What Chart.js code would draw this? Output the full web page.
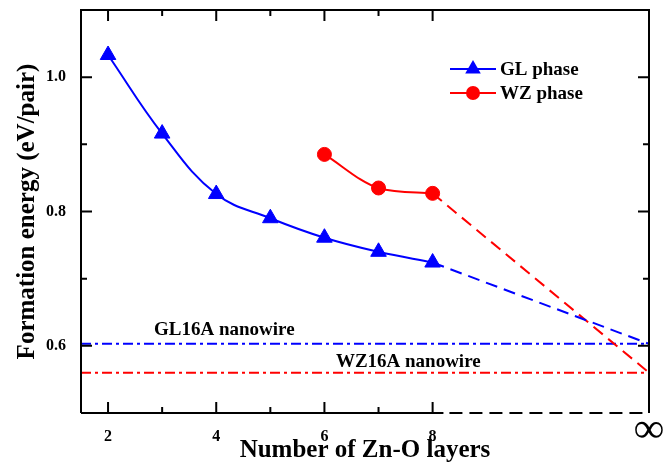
<!DOCTYPE html>
<html>
<head>
<meta charset="utf-8">
<script src="https://cdn.jsdelivr.net/npm/chart.js@4"></script>
<style>
html, body { margin: 0; padding: 0; background: #fff; }
#wrap { width: 668px; height: 466px; }
</style>
</head>
<body>
<div id="wrap"><canvas id="c"></canvas></div>
<script>
// values
const layers = [2, 3, 4, 5, 6, 7, 8];
const glEnergy = [1.033, 0.916, 0.826, 0.790, 0.761, 0.740, 0.724];
const wzLayers = [6, 7, 8];
const wzEnergy = [0.885, 0.835, 0.827];
const infLayer = 12;          // where "∞" sits on the x axis
const glLimit = 0.603;        // extrapolated GL value at ∞
const wzLimit = 0.560;        // extrapolated WZ value at ∞
const gl16a = 0.603;          // GL16A nanowire
const wz16a = 0.560;          // WZ16A nanowire
const xTicks = [2, 3, 4, 5, 6, 7, 8, 12];
const yTicks = [0.6, 0.7, 0.8, 0.9, 1.0];

const SERIF = '"Liberation Serif", "Times New Roman", serif';
const BLUE = '#0000ff';
const RED = '#ff0000';

function pts(xs, ys) {
    return xs.map((x, i) => ({ x: x, y: ys[i] }));
}

const data = {
    datasets: [
        {
            label: 'GL phase',
            data: pts(layers, glEnergy),
            borderColor: BLUE,
            backgroundColor: BLUE,
            borderWidth: 2,
            pointStyle: 'triangle',
            pointRadius: 9,
            pointBorderWidth: 1,
            tension: 0.4
        },
        {
            label: 'WZ phase',
            data: pts(wzLayers, wzEnergy),
            borderColor: RED,
            backgroundColor: RED,
            borderWidth: 2,
            pointStyle: 'circle',
            pointRadius: 7,
            pointBorderWidth: 1,
            cubicInterpolationMode: 'monotone'
        },
        {
            label: 'GL extrapolation',
            data: [{ x: layers[layers.length - 1], y: glEnergy[glEnergy.length - 1] }, { x: infLayer, y: glLimit }],
            borderColor: BLUE,
            borderWidth: 2,
            borderDash: [12, 7],
            pointRadius: 0
        },
        {
            label: 'WZ extrapolation',
            data: [{ x: wzLayers[wzLayers.length - 1], y: wzEnergy[wzEnergy.length - 1] }, { x: infLayer, y: wzLimit }],
            borderColor: RED,
            borderWidth: 2,
            borderDash: [12, 7],
            pointRadius: 0
        },
        {
            label: 'GL16A nanowire',
            data: [{ x: 1.5, y: gl16a }, { x: infLayer, y: gl16a }],
            borderColor: BLUE,
            borderWidth: 2,
            borderDash: [10, 4, 3, 4],
            pointRadius: 0
        },
        {
            label: 'WZ16A nanowire',
            data: [{ x: 1.5, y: wz16a }, { x: infLayer, y: wz16a }],
            borderColor: RED,
            borderWidth: 2,
            borderDash: [10, 4, 3, 4],
            pointRadius: 0
        }
    ]
};

// frame, inward ticks, broken bottom axis, ∞ mark, line labels and legend
const decor = {
    id: 'decor',
    afterDatasetsDraw(chart) {
        const ctx = chart.ctx;
        const a = chart.chartArea;
        const xs = chart.scales.x, ys = chart.scales.y;
        ctx.save();
        ctx.strokeStyle = '#000';
        ctx.lineWidth = 2;
        ctx.beginPath();
        ctx.moveTo(a.left, a.bottom);
        ctx.lineTo(a.left, a.top);
        ctx.lineTo(a.right, a.top);
        ctx.lineTo(a.right, a.bottom);
        ctx.stroke();

        const brk = xs.getPixelForValue(8.2);
        ctx.beginPath();
        ctx.moveTo(a.left, a.bottom);
        ctx.lineTo(brk, a.bottom);
        ctx.stroke();
        ctx.setLineDash([13, 7]);
        ctx.beginPath();
        ctx.moveTo(brk + 6, a.bottom);
        ctx.lineTo(a.right - 3, a.bottom);
        ctx.stroke();
        ctx.setLineDash([]);

        layers.forEach(v => {
            const px = xs.getPixelForValue(v);
            const len = v % 2 === 0 ? 11 : 6;
            ctx.beginPath();
            ctx.moveTo(px, a.bottom); ctx.lineTo(px, a.bottom - len);
            ctx.moveTo(px, a.top); ctx.lineTo(px, a.top + len);
            ctx.stroke();
        });
        yTicks.forEach((v, i) => {
            const py = ys.getPixelForValue(v);
            const len = i % 2 === 0 ? 11 : 6;
            ctx.beginPath();
            ctx.moveTo(a.left, py); ctx.lineTo(a.left + len, py);
            ctx.moveTo(a.right, py); ctx.lineTo(a.right - len, py);
            ctx.stroke();
        });

        ctx.fillStyle = '#000';
        ctx.textAlign = 'center';
        ctx.textBaseline = 'middle';
        ctx.font = 'bold 42px ' + SERIF;
        ctx.fillText('∞', xs.getPixelForValue(infLayer), a.bottom + 18);

        ctx.font = 'bold 19px ' + SERIF;
        ctx.textBaseline = 'alphabetic';
        ctx.fillText('GL16A nanowire', xs.getPixelForValue(4.15), ys.getPixelForValue(gl16a) - 9);
        ctx.fillText('WZ16A nanowire', xs.getPixelForValue(7.55), ys.getPixelForValue(wz16a) - 6);

        const items = [
            { text: 'GL phase', color: BLUE, style: 'triangle', r: 9 },
            { text: 'WZ phase', color: RED, style: 'circle', r: 7 }
        ];
        items.forEach((it, i) => {
            const y = 69 + i * 24;
            const x0 = 450, x1 = 496, xm = 473;
            ctx.strokeStyle = it.color;
            ctx.fillStyle = it.color;
            ctx.lineWidth = 2;
            ctx.beginPath();
            ctx.moveTo(x0, y); ctx.lineTo(x1, y);
            ctx.stroke();
            ctx.beginPath();
            if (it.style === 'circle') {
                ctx.arc(xm, y, it.r, 0, Math.PI * 2);
            } else {
                const r = it.r;
                ctx.moveTo(xm, y - r);
                ctx.lineTo(xm + r * 0.866, y + r * 0.5);
                ctx.lineTo(xm - r * 0.866, y + r * 0.5);
                ctx.closePath();
            }
            ctx.fill();
            ctx.fillStyle = '#000';
            ctx.textAlign = 'left';
            ctx.textBaseline = 'middle';
            ctx.fillText(it.text, 500, y + 1);
        });
        ctx.restore();
    }
};

const config = {
    type: 'line',
    data: data,
    options: {
        responsive: true,
        maintainAspectRatio: false,
        animation: false,
        layout: { padding: { top: 6, right: 19, left: 13, bottom: 0 } },
        plugins: {
            legend: { display: false },
            tooltip: { enabled: false }
        },
        scales: {
            x: {
                type: 'linear',
                min: 1.5,
                max: 12,
                grid: { display: false, drawTicks: false },
                border: { display: false },
                afterBuildTicks: s => { s.ticks = xTicks.map(v => ({ value: v })); },
                afterFit: s => { s.height = 53; s.paddingLeft = 0; s.paddingRight = 0; },
                ticks: {
                    autoSkip: false,
                    maxRotation: 0,
                    padding: 14,
                    color: '#000',
                    font: { family: SERIF, size: 16, weight: 'bold' },
                    // ∞ is drawn larger by the decor plugin
                    callback: v => v === infLayer ? '' : (v % 2 === 0 ? String(v) : '')
                },
                title: {
                    display: true,
                    text: 'Number of Zn-O layers',
                    color: '#000',
                    font: { family: SERIF, size: 25, weight: 'bold' },
                    padding: 0
                }
            },
            y: {
                min: 0.5,
                max: 1.1,
                grid: { display: false, drawTicks: false },
                border: { display: false },
                afterBuildTicks: s => { s.ticks = yTicks.map(v => ({ value: v })); },
                afterFit: s => { s.width = 68; s.paddingTop = 0; s.paddingBottom = 0; },
                ticks: {
                    padding: 15,
                    color: '#000',
                    font: { family: SERIF, size: 16, weight: 'bold' },
                    callback: (v, i) => i % 2 === 0 ? v.toFixed(1) : ''
                },
                title: {
                    display: true,
                    text: 'Formation energy (eV/pair)',
                    color: '#000',
                    font: { family: SERIF, size: 25, weight: 'bold' },
                    padding: 0
                }
            }
        }
    },
    plugins: [decor]
};

const chart = new Chart(document.getElementById('c'), config);
</script>
</body>
</html>
